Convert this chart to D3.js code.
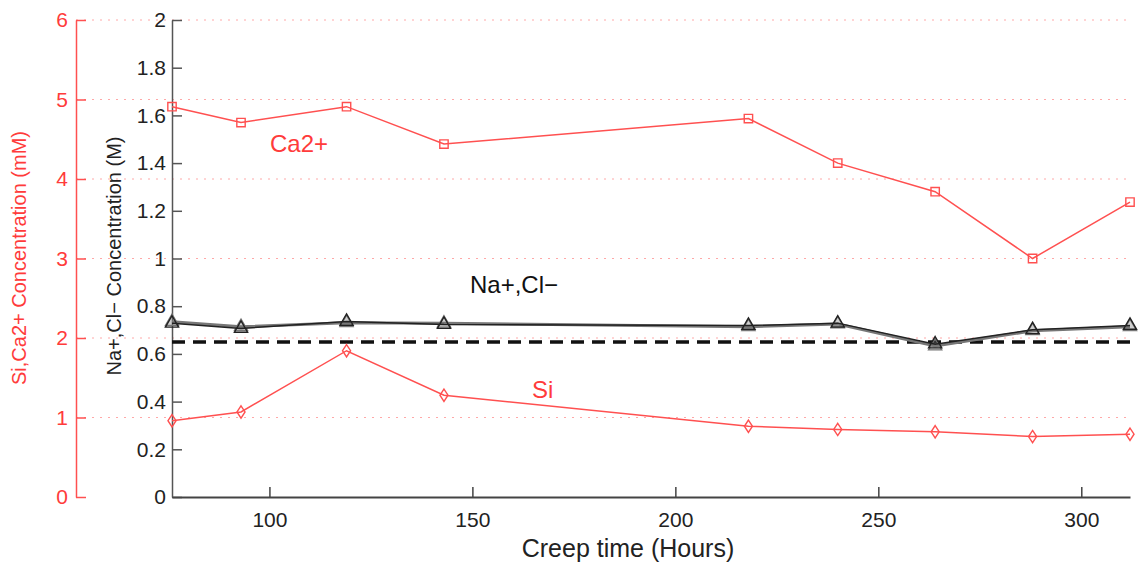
<!DOCTYPE html>
<html>
<head>
<meta charset="utf-8">
<script src="https://cdn.jsdelivr.net/npm/d3@7"></script>
<style>
  body { margin: 0; background: #fff; }
  svg { font-family: "Liberation Sans", Arial, sans-serif; }
</style>
</head>
<body>
<svg id="chart" width="1140" height="565"></svg>
<script>
// Data
const hours = [76, 93, 119, 143, 218, 240, 264, 288, 312];
const caValues = [4.91, 4.71, 4.91, 4.44, 4.76, 4.20, 3.84, 3.00, 3.71];   // mM
const siValues = [0.96, 1.07, 1.84, 1.28, 0.89, 0.85, 0.82, 0.76, 0.79];   // mM
const naValues = [0.735, 0.714, 0.731, 0.728, 0.714, 0.725, 0.633, 0.697, 0.714]; // M
const clValues = [0.728, 0.707, 0.736, 0.723, 0.719, 0.729, 0.641, 0.701, 0.719]; // M
const refLevel = [0.65]; // M, dashed line
const xTicks = [100, 150, 200, 250, 300];
const redTicks = [0, 1, 2, 3, 4, 5, 6];
const blackTicks = [0, 0.2, 0.4, 0.6, 0.8, 1, 1.2, 1.4, 1.6, 1.8, 2];

const red = '#ff3b3b';
const redLine = '#ff5050';
const svg = d3.select('#chart');

const x = d3.scaleLinear().domain([76, 312]).range([172, 1130]);
const yRed = d3.scaleLinear().domain([0, 6]).range([497, 20]);
const yBlack = d3.scaleLinear().domain([0, 2]).range([497, 20]);

// dotted grid of the red axis
svg.append('g').selectAll('line')
  .data(redTicks.filter(d => d > 0))
  .enter().append('line')
  .attr('x1', 76).attr('x2', 1130)
  .attr('y1', d => yRed(d)).attr('y2', d => yRed(d))
  .attr('stroke', '#ffa8a8').attr('stroke-width', 1)
  .attr('stroke-dasharray', '2,6');

// red axis (outer)
const redAxis = svg.append('g')
  .attr('transform', 'translate(76,0)')
  .call(d3.axisLeft(yRed).tickValues(redTicks).tickFormat(d3.format('d'))
    .tickSizeInner(-10).tickSizeOuter(0).tickPadding(8));
redAxis.select('.domain').attr('stroke', redLine).attr('stroke-width', 1.5);
redAxis.selectAll('.tick line').attr('stroke', redLine).attr('stroke-width', 1.5);
redAxis.selectAll('text').attr('fill', red).attr('font-size', 21);

// black axis (inner)
const blackAxis = svg.append('g')
  .attr('transform', 'translate(172,0)')
  .call(d3.axisLeft(yBlack).tickValues(blackTicks).tickFormat(d => String(+d.toFixed(1)))
    .tickSizeInner(-10).tickSizeOuter(0).tickPadding(6));
blackAxis.select('.domain').attr('stroke', '#555').attr('stroke-width', 1.5);
blackAxis.selectAll('.tick line').attr('stroke', '#555').attr('stroke-width', 1.5);
blackAxis.selectAll('text').attr('fill', '#222').attr('font-size', 21);

// x axis
const xAxis = svg.append('g')
  .attr('transform', 'translate(0,497)')
  .call(d3.axisBottom(x).tickValues(xTicks).tickFormat(d3.format('d'))
    .tickSizeInner(-10).tickSizeOuter(0).tickPadding(15));
xAxis.select('.domain').attr('stroke', '#444').attr('stroke-width', 2);
xAxis.selectAll('.tick line').attr('stroke', '#444').attr('stroke-width', 1.5);
xAxis.selectAll('text').attr('fill', '#222').attr('font-size', 21);

// dashed reference line
svg.append('g').selectAll('line')
  .data(refLevel)
  .enter().append('line')
  .attr('x1', x(76)).attr('x2', x(312))
  .attr('y1', d => yBlack(d)).attr('y2', d => yBlack(d))
  .attr('stroke', '#111').attr('stroke-width', 3.5)
  .attr('stroke-dasharray', '13,8');

// series
function drawSeries(values, yScale, color, width, marker, size, fill) {
  const pts = hours.map((h, i) => [x(h), yScale(values[i])]);
  svg.append('path')
    .attr('d', d3.line()(pts))
    .attr('fill', 'none')
    .attr('stroke', color)
    .attr('stroke-width', width);
  svg.append('g').selectAll('path')
    .data(pts)
    .enter().append('path')
    .attr('transform', d => `translate(${d[0]},${d[1]})`)
    .attr('d', d3.symbol().type(marker).size(size))
    .attr('fill', fill || 'none')
    .attr('stroke', color)
    .attr('stroke-width', 1.4);
}

const diamond = {
  draw(ctx, size) {
    const r = Math.sqrt(size) / 2;
    ctx.moveTo(0, -r * 1.3); ctx.lineTo(r * 0.85, 0); ctx.lineTo(0, r * 1.3); ctx.lineTo(-r * 0.85, 0); ctx.closePath();
  }
};

drawSeries(caValues, yRed, redLine, 1.5, d3.symbolSquare, 70);
drawSeries(siValues, yRed, redLine, 1.5, diamond, 90);
drawSeries(naValues, yBlack, '#777', 3, d3.symbolTriangle, 75, 'rgba(120,120,120,0.35)');
drawSeries(clValues, yBlack, '#222', 1.5, d3.symbolTriangle, 75);

// annotations
svg.append('text').attr('x', 270).attr('y', 152).attr('fill', red)
  .attr('font-size', 24).text('Ca2+');
svg.append('text').attr('x', 470).attr('y', 293).attr('fill', '#111')
  .attr('font-size', 24).text('Na+,Cl\u2212');
svg.append('text').attr('x', 532).attr('y', 398).attr('fill', red)
  .attr('font-size', 24).text('Si');

// axis titles
svg.append('text')
  .attr('transform', 'translate(26,258) rotate(-90)')
  .attr('text-anchor', 'middle').attr('fill', red).attr('font-size', 20)
  .text('Si,Ca2+ Concentration (mM)');
svg.append('text')
  .attr('transform', 'translate(121,256) rotate(-90)')
  .attr('text-anchor', 'middle').attr('fill', '#222').attr('font-size', 20)
  .text('Na+,Cl\u2212 Concentration (M)');
svg.append('text')
  .attr('x', 628).attr('y', 557)
  .attr('text-anchor', 'middle').attr('fill', '#222').attr('font-size', 25)
  .text('Creep time (Hours)');
</script>
</body>
</html>
